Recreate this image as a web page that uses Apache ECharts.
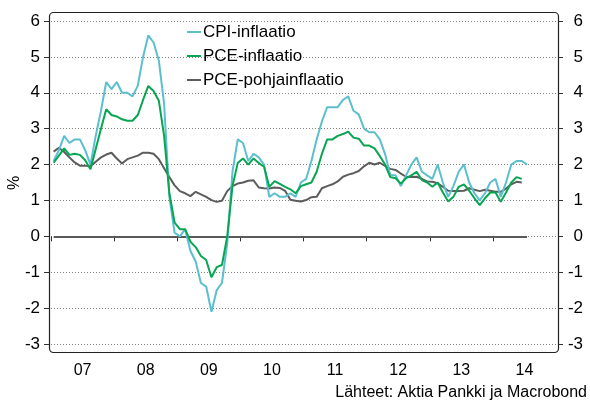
<!DOCTYPE html>
<html>
<head>
<meta charset="utf-8">
<script src="https://cdn.jsdelivr.net/npm/echarts@6/dist/echarts.min.js"></script>
<style>
  html, body { margin: 0; padding: 0; background: #fff; }
  #chart { width: 590px; height: 403px; }
</style>
</head>
<body>
<div id="chart"></div>
<script>
// kuukausidata tammikuu 2007 alkaen
var startYear = 2007;
var tickYears = [2007, 2008, 2009, 2010, 2011, 2012, 2013, 2014];
var yearLabels = ['07', '08', '09', '10', '11', '12', '13', '14'];
var seriesNames = ['CPI-inflaatio', 'PCE-inflaatio', 'PCE-pohjainflaatio'];

var cpi = [
    2.1, 2.4, 2.8, 2.6, 2.7, 2.7, 2.4, 2.0, 2.8, 3.5, 4.3, 4.1,
    4.3, 4.0, 4.0, 3.9, 4.2, 5.0, 5.6, 5.4, 4.9, 3.7, 1.1, 0.1,
    0.0, 0.2, -0.4, -0.7, -1.3, -1.4, -2.1, -1.5, -1.3, -0.2, 1.8, 2.7,
    2.6, 2.1, 2.3, 2.2, 2.0, 1.1, 1.2, 1.1, 1.1, 1.2, 1.1, 1.5,
    1.6, 2.1, 2.7, 3.2, 3.6, 3.6, 3.6, 3.8, 3.9, 3.5, 3.4, 3.0,
    2.9, 2.9, 2.7, 2.3, 1.7, 1.7, 1.4, 1.7, 2.0, 2.2, 1.8, 1.7,
    1.6, 2.0, 1.5, 1.1, 1.4, 1.8, 2.0, 1.5, 1.2, 1.0, 1.2, 1.5,
    1.6, 1.1, 1.5, 2.0, 2.1, 2.1, 2.0
];
var pce = [
    2.05, 2.25, 2.45, 2.27, 2.3, 2.27, 2.12, 1.87, 2.43, 3.0, 3.54, 3.38,
    3.34, 3.26, 3.22, 3.22, 3.38, 3.8, 4.19, 4.05, 3.78, 2.8, 1.2, 0.38,
    0.2, 0.2, -0.15, -0.3, -0.55, -0.66, -1.14, -0.86, -0.8, 0.0, 1.4, 2.04,
    2.17, 2.0, 2.17, 2.04, 1.94, 1.38, 1.54, 1.46, 1.38, 1.31, 1.2, 1.4,
    1.45, 1.5, 1.8, 2.3, 2.7, 2.7, 2.8, 2.85, 2.92, 2.75, 2.72, 2.53,
    2.53, 2.45, 2.24, 2.0, 1.65, 1.62, 1.47, 1.62, 1.7, 1.8, 1.57, 1.5,
    1.38, 1.5, 1.22, 0.97, 1.1, 1.38, 1.45, 1.27, 1.06, 0.87, 1.06, 1.22,
    1.22, 0.96, 1.22, 1.5, 1.65, 1.6
];
var core = [
    2.36, 2.47, 2.35, 2.2, 2.06, 1.97, 1.97, 1.95, 2.08, 2.2, 2.28, 2.33,
    2.17, 2.03, 2.15, 2.2, 2.25, 2.33, 2.33, 2.3, 2.15, 1.9, 1.65, 1.42,
    1.26, 1.2, 1.12, 1.24, 1.17, 1.1, 1.01, 0.96, 0.99, 1.26, 1.4, 1.47,
    1.5, 1.55, 1.56, 1.36, 1.34, 1.33, 1.36, 1.35, 1.27, 1.02, 0.99, 0.97,
    1.01, 1.09, 1.1, 1.34, 1.4, 1.45, 1.53, 1.66, 1.72, 1.76, 1.82, 1.95,
    2.05, 2.0, 2.05, 1.96, 1.88, 1.85, 1.75, 1.66, 1.65, 1.66, 1.6, 1.53,
    1.52, 1.48, 1.38, 1.27, 1.26, 1.26, 1.27, 1.34, 1.3, 1.26, 1.3, 1.27,
    1.24, 1.24, 1.33, 1.45, 1.52, 1.5
];

var colors = ['#5bbfcd', '#08a552', '#5c5c5c'];

// kuukauden keskikohta vuosiasteikolla
function toPoints(values) {
    return values.map(function (v, i) {
        return [startYear + (i + 0.5) / 12, v];
    });
}

var firstX = startYear + 0.5 / 12;
var lastX = startYear + (cpi.length - 0.5) / 12;

var font = 'Liberation Sans, Arial, sans-serif';

var myChart = echarts.init(document.getElementById('chart'));

var yAxisBase = {
    type: 'value',
    min: -3,
    max: 6,
    interval: 1,
    offset: 2,
    axisLine: { show: false },
    axisTick: { show: true, length: 5, lineStyle: { color: '#333' } }
};

var option = {
    animation: false,
    color: colors,
    textStyle: { fontFamily: font },
    grid: { left: 51, right: 34, top: 21, bottom: 59, outerBoundsMode: 'none', containLabel: false },
    title: {
        text: 'Lähteet: Aktia Pankki ja Macrobond',
        right: 3,
        top: 385,
        padding: 0,
        textStyle: { fontSize: 16, fontWeight: 'normal', color: '#000', fontFamily: font }
    },
    legend: {
        orient: 'vertical',
        left: 187,
        top: 23,
        padding: 0,
        itemGap: 6,
        itemWidth: 14,
        itemHeight: 2,
        icon: 'rect',
        data: seriesNames,
        textStyle: { fontSize: 17, color: '#000', lineHeight: 18, padding: [0, 0, 0, -3], fontFamily: font }
    },
    xAxis: {
        type: 'value',
        min: startYear,
        max: 2015,
        offset: 8,
        axisLine: { show: false },
        splitLine: { show: false },
        axisTick: {
            show: true,
            length: 5,
            customValues: tickYears,
            lineStyle: { color: '#333' }
        },
        axisLabel: {
            customValues: tickYears.map(function (y) { return y + 0.5; }),
            formatter: function (v) {
                return yearLabels[tickYears.indexOf(Math.floor(v))];
            },
            margin: 11,
            fontSize: 16,
            color: '#000'
        }
    },
    yAxis: [
        Object.assign({}, yAxisBase, {
            position: 'left',
            splitLine: { show: true, lineStyle: { color: '#808080', type: [1, 2], width: 1 } },
            axisLabel: { margin: 9, fontSize: 17, color: '#000' }
        }),
        Object.assign({}, yAxisBase, {
            position: 'right',
            splitLine: { show: false },
            axisLabel: { margin: 25, align: 'right', fontSize: 17, color: '#000' }
        })
    ],
    graphic: [
        {
            type: 'rect',
            silent: true,
            z: 100,
            shape: { x: 49.5, y: 12.5, width: 509, height: 340, r: 4 },
            style: { fill: 'none', stroke: '#222', lineWidth: 1.2 }
        },
        {
            // y-akselin yksikkö
            type: 'text',
            silent: true,
            x: 15,
            y: 183,
            rotation: Math.PI / 2,
            style: {
                text: '%',
                fontSize: 16,
                fontFamily: font,
                fill: '#000',
                align: 'center',
                verticalAlign: 'middle'
            }
        }
    ],
    series: [
        {
            name: seriesNames[0],
            type: 'line',
            data: toPoints(cpi),
            showSymbol: false,
            lineStyle: { width: 2 },
            z: 3,
            markLine: {
                silent: true,
                symbol: 'none',
                label: { show: false },
                lineStyle: { color: '#5a5a5a', width: 2, type: 'solid' },
                data: [[{ coord: [firstX, 0] }, { coord: [lastX, 0] }]],
                z: 1
            }
        },
        {
            name: seriesNames[1],
            type: 'line',
            data: toPoints(pce),
            showSymbol: false,
            lineStyle: { width: 2 },
            z: 4
        },
        {
            name: seriesNames[2],
            type: 'line',
            data: toPoints(core),
            showSymbol: false,
            lineStyle: { width: 2 },
            z: 2
        }
    ]
};

myChart.setOption(option);
</script>
</body>
</html>
